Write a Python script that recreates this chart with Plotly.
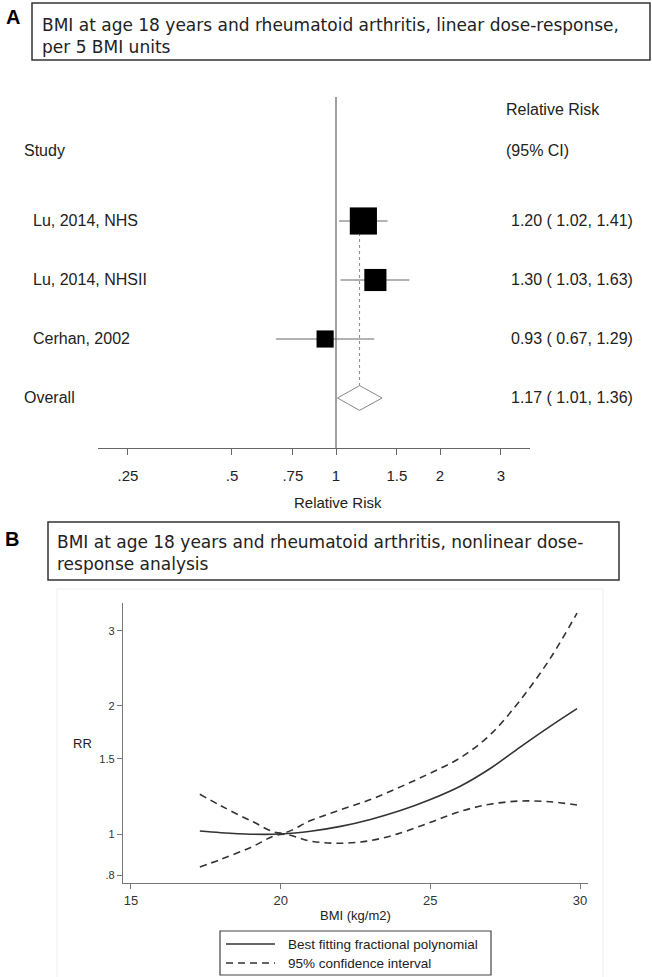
import math
import plotly.graph_objects as go

W, H = 652, 977

# ---------------- Panel A data ----------------
studies = ["Lu, 2014, NHS", "Lu, 2014, NHSII", "Cerhan, 2002"]
rr = [1.20, 1.30, 0.93]
ci_low = [1.02, 1.03, 0.67]
ci_high = [1.41, 1.63, 1.29]
weights = [48.5, 32.2, 19.3]
overall_label = "Overall"
overall_rr = 1.17
overall_low = 1.01
overall_high = 1.36
forest_ticks = [0.25, 0.5, 0.75, 1, 1.5, 2, 3]
forest_ticktext = [".25", ".5", ".75", "1", "1.5", "2", "3"]

# ---------------- Panel B data ----------------
bmi = [17.3, 18, 19, 20, 21, 22, 23, 24, 25, 26, 27, 28, 29, 29.9]
rr_fit = [1.016, 1.007, 0.999, 1.0, 1.015, 1.042, 1.082, 1.135, 1.205, 1.295, 1.425, 1.60, 1.79, 1.97]
rr_upper = [1.24, 1.165, 1.075, 1.005, 1.075, 1.14, 1.205, 1.29, 1.39, 1.51, 1.71, 2.06, 2.58, 3.30]
rr_lower = [0.837, 0.872, 0.93, 0.998, 0.962, 0.951, 0.965, 1.005, 1.065, 1.13, 1.175, 1.195, 1.19, 1.17]
bmi_ticks = [15, 20, 25, 30]
rr_ticks = [0.8, 1, 1.5, 2, 3]
rr_ticktext = [".8", "1", "1.5", "2", "3"]
legend_names = ["Best fitting fractional polynomial", "95% confidence interval"]

TITLE_A = ["BMI at age 18 years and rheumatoid arthritis, linear dose-response,", "per 5 BMI units"]
TITLE_B = ["BMI at age 18 years and rheumatoid arthritis, nonlinear dose-", "response analysis"]


def px(x):
    return x / W


def py(y):
    return 1 - y / H


SANS = "Liberation Sans, Arial, sans-serif"
TITLEF = "DejaVu Sans, Verdana, sans-serif"
DASH = "7px,5px"

fig = go.Figure()

# ---------------- Panel A traces ----------------
rows = list(range(1, len(studies) + 1))
ci_x, ci_y = [], []
for r, lo, hi in zip(rows, ci_low, ci_high):
    ci_x += [lo, hi, None]
    ci_y += [r, r, None]
fig.add_trace(go.Scatter(x=ci_x, y=ci_y, mode="lines", line=dict(color="#666", width=1),
                         showlegend=False, hoverinfo="skip", xaxis="x", yaxis="y"))

overall_row = len(studies) + 1
fig.add_trace(go.Scatter(x=[overall_rr, overall_rr], y=[1, overall_row], mode="lines",
                         line=dict(color="#888", width=1, dash="dot"),
                         showlegend=False, hoverinfo="skip", xaxis="x", yaxis="y"))

sizes = [3.9 * (w ** 0.5) for w in weights]
fig.add_trace(go.Scatter(x=rr, y=rows, mode="markers",
                         marker=dict(symbol="square", size=sizes, color="#000000", opacity=1,
                                     line=dict(width=0)),
                         showlegend=False, xaxis="x", yaxis="y"))

h = 0.21
fig.add_trace(go.Scatter(x=[overall_low, overall_rr, overall_high, overall_rr, overall_low],
                         y=[overall_row, overall_row - h, overall_row, overall_row + h, overall_row],
                         mode="lines", fill="toself", fillcolor="white",
                         line=dict(color="#888", width=1), showlegend=False, xaxis="x", yaxis="y"))

# ---------------- Panel B traces ----------------
fig.add_trace(go.Scatter(x=bmi, y=rr_fit, mode="lines", name=legend_names[0], showlegend=False,
                         line=dict(color="#333", width=1.6, shape="spline"), xaxis="x2", yaxis="y2"))
fig.add_trace(go.Scatter(x=bmi, y=rr_upper, mode="lines", name=legend_names[1], showlegend=False,
                         line=dict(color="#333", width=1.6, dash=DASH, shape="spline"),
                         xaxis="x2", yaxis="y2"))
fig.add_trace(go.Scatter(x=bmi, y=rr_lower, mode="lines", name=legend_names[1], showlegend=False,
                         line=dict(color="#333", width=1.6, dash=DASH, shape="spline"),
                         xaxis="x2", yaxis="y2"))

# ---------------- Axes ----------------
ln_per_px_a = 150.1
x_a_left = math.log10(math.exp((98 - 336) / ln_per_px_a))
x_a_right = math.log10(math.exp((530 - 336) / ln_per_px_a))
row_px0, row_step = 162, 59
ya_top_px, ya_bot_px = 97, 448

fig.update_layout(
    xaxis=dict(domain=[px(98), px(530)], type="log", range=[x_a_left, x_a_right],
               tickvals=forest_ticks, ticktext=forest_ticktext, showline=True,
               linecolor="#666", linewidth=1, ticks="outside", ticklen=6, tickcolor="#666",
               tickfont=dict(family=SANS, size=15, color="#222"), showgrid=False, zeroline=False,
               ticklabelstandoff=8, anchor="y", fixedrange=True),
    yaxis=dict(domain=[py(ya_bot_px), py(ya_top_px)],
               range=[(ya_bot_px - row_px0) / row_step, (ya_top_px - row_px0) / row_step],
               visible=False, showgrid=False, zeroline=False, anchor="x"),
    xaxis2=dict(domain=[px(123), px(588)], range=[14.733, 30.267], tickvals=bmi_ticks,
                showline=True, linecolor="#777", linewidth=1.2, ticks="outside", ticklen=5,
                tickcolor="#777", tickfont=dict(family=SANS, size=13, color="#333"),
                showgrid=False, zeroline=False, anchor="y2"),
    yaxis2=dict(domain=[py(883), py(603)], type="log", range=[-0.11503, 0.54228],
                tickvals=rr_ticks, ticktext=rr_ticktext, showline=True, linecolor="#777",
                linewidth=1.2, ticks="outside", ticklen=5, tickcolor="#777",
                tickfont=dict(family=SANS, size=11, color="#333"),
                showgrid=False, zeroline=False, anchor="x2"),
)

# ---------------- Shapes ----------------
shapes = [
    dict(type="rect", xref="paper", yref="paper", x0=px(57), x1=px(603), y0=-0.01, y1=py(589),
         line=dict(color="#efefef", width=1), fillcolor="rgba(0,0,0,0)", layer="below"),
    dict(type="rect", xref="paper", yref="paper", x0=px(32), x1=px(650), y0=py(60), y1=py(3),
         line=dict(color="#333", width=1.5)),
    dict(type="rect", xref="paper", yref="paper", x0=px(48), x1=px(619), y0=py(580), y1=py(522),
         line=dict(color="#333", width=1.5)),
    dict(type="line", xref="x", yref="y domain", x0=1, x1=1, y0=0, y1=1,
         line=dict(color="#444", width=1), layer="below"),
    # legend box and samples
    dict(type="rect", xref="paper", yref="paper", x0=px(220), x1=px(491), y0=py(975), y1=py(931),
         line=dict(color="#444", width=1.2), fillcolor="white"),
    dict(type="line", xref="paper", yref="paper", x0=px(226), x1=px(275), y0=py(944), y1=py(944),
         line=dict(color="#333", width=1.6)),
    dict(type="line", xref="paper", yref="paper", x0=px(226), x1=px(275), y0=py(963), y1=py(963),
         line=dict(color="#333", width=1.6, dash=DASH)),
]

# ---------------- Annotations ----------------
ann = []


def text(x, y, s, size, family=SANS, xanchor="left", color="#222", bold=False, xref="paper", yref="paper"):
    ann.append(dict(x=x, y=y, xref=xref, yref=yref, text=("<b>%s</b>" % s) if bold else s,
                    showarrow=False, xanchor=xanchor, yanchor="middle",
                    font=dict(family=family, size=size, color=color)))


text(px(13), py(17), "A", 20, family="Liberation Sans, Arial", xanchor="center", color="#000", bold=True)
text(px(40), py(25), TITLE_A[0], 17, family=TITLEF)
text(px(40), py(47), TITLE_A[1], 17, family=TITLEF)
text(px(12), py(539), "B", 20, family="Liberation Sans, Arial", xanchor="center", color="#000", bold=True)
text(px(55), py(542), TITLE_B[0], 17, family=TITLEF)
text(px(55), py(564), TITLE_B[1], 17, family=TITLEF)

text(px(504), py(110), "Relative Risk", 16)
text(px(504), py(151), "(95% CI)", 16)
text(px(22), py(151), "Study", 16)
for r, s, v, lo, hi in zip(rows, studies, rr, ci_low, ci_high):
    text(px(31), r, s, 16, yref="y")
    text(px(509), r, "%.2f ( %.2f, %.2f)" % (v, lo, hi), 16, yref="y")
text(px(22), overall_row, overall_label, 16, yref="y")
text(px(509), overall_row, "%.2f ( %.2f, %.2f)" % (overall_rr, overall_low, overall_high), 16, yref="y")
text(px(338), py(502), "Relative Risk", 15, xanchor="center")

text(px(83), py(743), "RR", 13, xanchor="center")
text(px(355), py(915), "BMI (kg/m2)", 13, xanchor="center")
text(px(286), py(944), legend_names[0], 13.5)
text(px(286), py(963), legend_names[1], 13.5)

fig.update_layout(
    width=W, height=H, autosize=False,
    margin=dict(l=0, r=0, t=0, b=0),
    paper_bgcolor="white", plot_bgcolor="white",
    shapes=shapes, annotations=ann,
    showlegend=False,
    hovermode=False,
)

fig.write_html("out.html",
               config={"displayModeBar": False, "staticPlot": True},
               post_script="document.body.style.margin='0';document.body.style.overflow='hidden';")
